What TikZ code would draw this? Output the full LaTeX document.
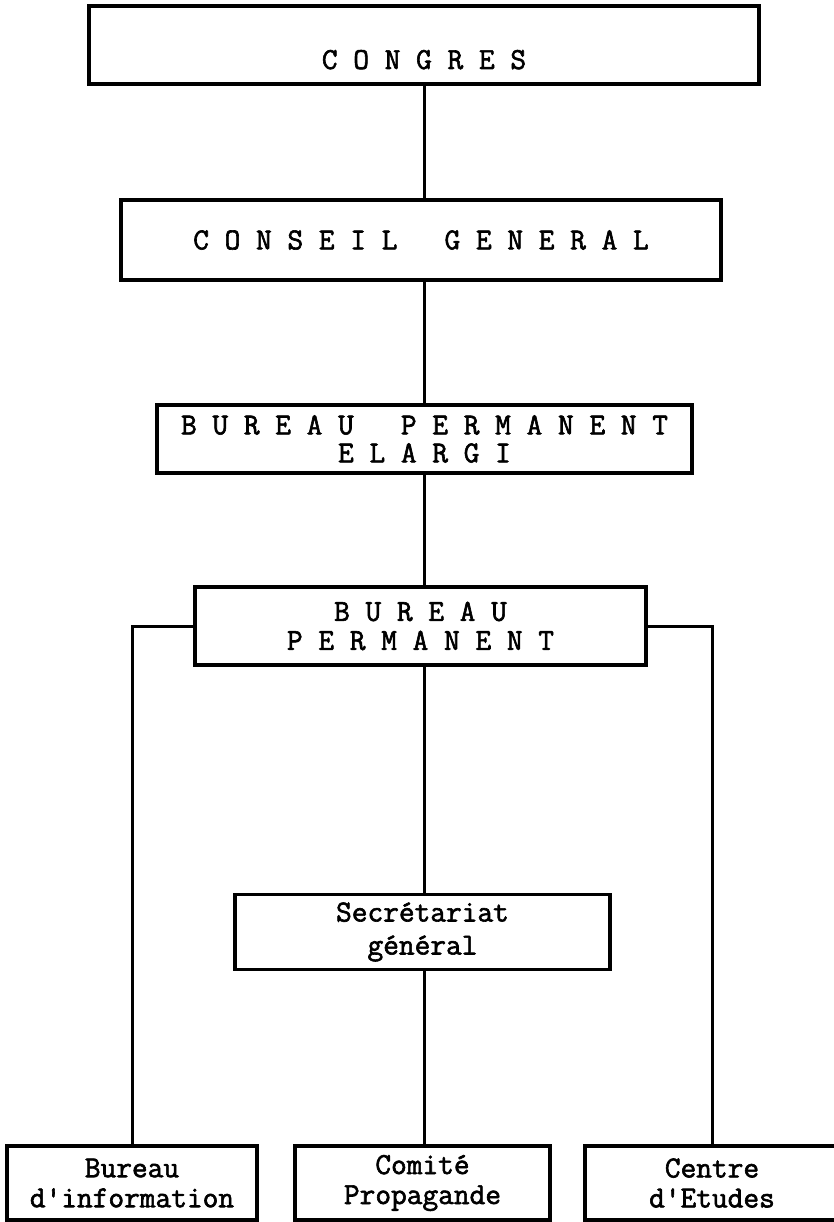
\documentclass[tikz,border=0pt]{standalone}
\usepackage{fontspec}
\newfontfamily\tw[Ligatures=TeXOff, FakeBold=2]{Latin Modern Mono}
\usetikzlibrary{positioning}

\begin{document}
\begin{tikzpicture}[x=1pt, y=-1pt,
    box/.style={draw, rectangle, line width=3.5pt, inner sep=0pt, align=center,
      font=\tw\fontsize{30.5}{28}\selectfont},
    link/.style={line width=3pt}]
    \useasboundingbox[fill=white] (0,0) rectangle (833,1222);
    \node[box, minimum width=670pt, minimum height=78pt] (b1) at (424,45) {\raisebox{-24pt}[0pt][0pt]{C O N G R E S}};
    \node[box, minimum width=600pt, minimum height=80pt] (b2) at (421,240) {C O N S E I L\ \ \ G E N E R A L};
    \node[box, minimum width=535pt, minimum height=68pt] (b3) at (424.5,439) {B U R E A U\ \ \ P E R M A N E N T\\E L A R G I};
    \node[box, minimum width=451pt, minimum height=78pt, font=\tw\fontsize{30.5}{29}\selectfont] (b4) at (420.5,626) {B U R E A U\\P E R M A N E N T};
    \node[box, minimum width=375pt, minimum height=75pt, font=\tw\fontsize{30.5}{33}\selectfont] (b5) at (422.5,932) {Secrétariat\\général};
    \node[box, minimum width=250pt, minimum height=74pt, font=\tw\fontsize{30.5}{30}\selectfont] (b6) at (132,1183) {Bureau\\d'information};
    \node[box, minimum width=255pt, minimum height=74pt, font=\tw\fontsize{30.5}{30}\selectfont] (b7) at (422.5,1183) {Comité\\Propagande};
    \node[box, minimum width=254pt, minimum height=74pt, font=\tw\fontsize{30.5}{30}\selectfont] (b8) at (712,1183) {Centre\\d'Etudes};
    \path[link]
    (b1.south) edge (b1.south |- b2.north)
    (b1.south |- b2.south) edge (b1.south |- b3.north)
    (b1.south |- b3.south) edge (b1.south |- b4.north)
    (b1.south |- b4.south) edge (b1.south |- b5.north)
    (b1.south |- b5.south) edge (b1.south |- b7.north);
    \draw[link] (b4.west) -| (b6.north);
    \draw[link] (b4.east) -| (b8.north);
\end{tikzpicture}
\end{document}
